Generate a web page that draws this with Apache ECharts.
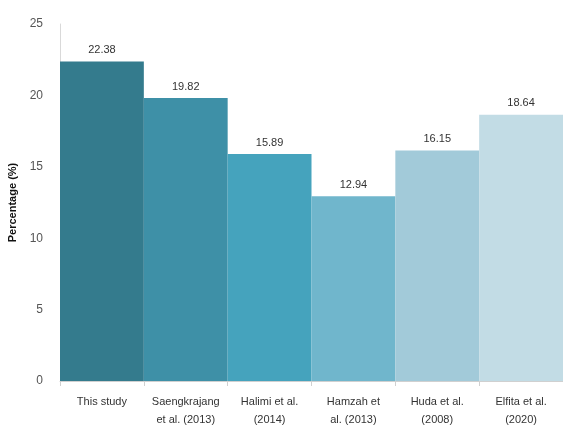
<!DOCTYPE html>
<html>
<head>
<meta charset="utf-8">
<script src="https://cdn.jsdelivr.net/npm/echarts@6/dist/echarts.min.js"></script>
<style>
  html, body { margin: 0; padding: 0; background: #fff; }
  #chart { width: 563px; height: 426px; }
</style>
</head>
<body>
<div id="chart"></div>
<script>
// studies compared
const studies = ['This study', 'Saengkrajang\net al. (2013)', 'Halimi et al.\n(2014)', 'Hamzah et\nal. (2013)', 'Huda et al.\n(2008)', 'Elfita et al.\n(2020)']
const percentage = [22.38, 19.82, 15.89, 12.94, 16.15, 18.64]
const barColors = ['#347b8d', '#3e90a7', '#45a3bd', '#70b6cc', '#a2cad9', '#c2dce5']

const chart = echarts.init(document.getElementById('chart'))
chart.setOption({
  backgroundColor: '#fff',
  animation: false,
  textStyle: { fontFamily: 'Liberation Sans' },
  grid: {
    top: 24,
    left: 60,
    right: 0,
    bottom: 45,
    outerBoundsMode: 'none'
  },
  xAxis: {
    type: 'category',
    data: studies,
    axisLine: { lineStyle: { color: '#d0d0d0', width: 1 } },
    axisTick: { show: true, length: 5, lineStyle: { color: '#d0d0d0' } },
    axisLabel: {
      color: '#333',
      fontSize: 11,
      lineHeight: 18,
      margin: 12,
      interval: 0
    }
  },
  yAxis: {
    type: 'value',
    min: 0,
    max: 25,
    interval: 5,
    name: 'Percentage (%)',
    nameLocation: 'middle',
    nameGap: 32,
    nameTextStyle: { color: '#111', fontSize: 11, fontWeight: 'bold' },
    axisLine: { show: true, lineStyle: { color: '#d9d9d9' } },
    axisTick: { show: false },
    splitLine: { show: false },
    axisLabel: { color: '#555', fontSize: 12, margin: 17 }
  },
  series: [{
    type: 'bar',
    barCategoryGap: 0,
    data: percentage.map((v, i) => ({ value: v, itemStyle: { color: barColors[i] } })),
    label: {
      show: true,
      position: 'top',
      distance: 6,
      color: '#333',
      fontSize: 11
    }
  }]
})
</script>
</body>
</html>
